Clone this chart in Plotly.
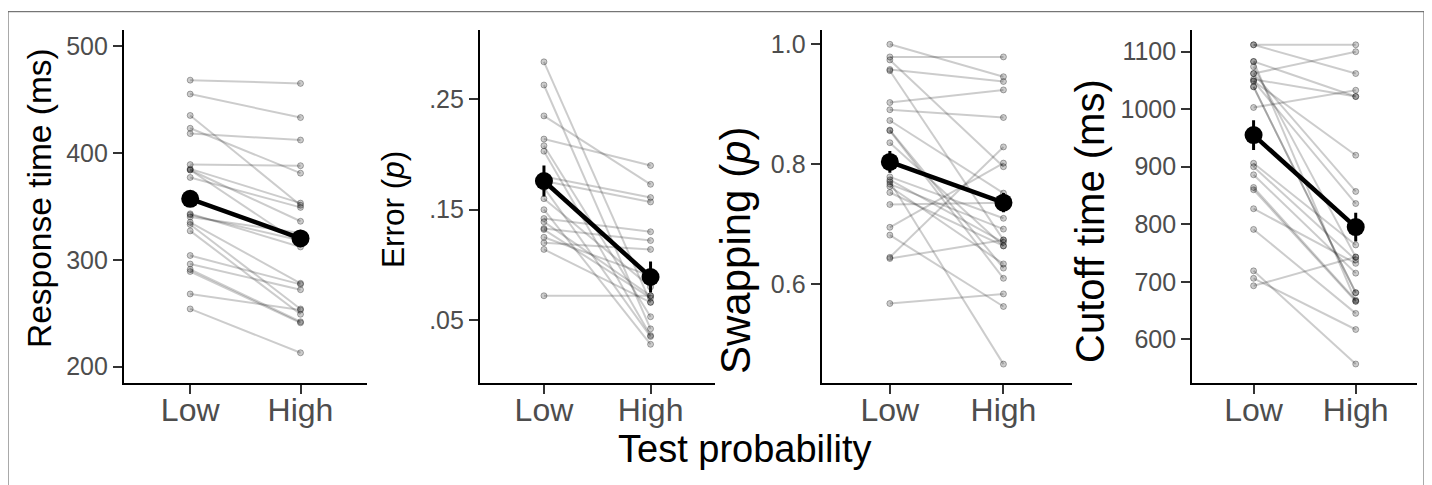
import plotly.graph_objects as go

W, H = 1432, 485
OFF = 8  # page body margin offset

conditions = ["Low", "High"]

# Panel 1: Response time (ms)
rt_low = [468, 455, 435, 423, 418, 389, 385, 384, 377, 343, 342, 335, 333, 327, 304, 296, 291, 289, 268, 254, 384, 340]
rt_high = [465, 433, 351, 381, 412, 388, 353, 336, 349, 312, 318, 278, 254, 249, 277, 272, 242, 241, 253, 213, 315, 325]
rt_mean = [357, 320]
rt_se = [7, 7]

# Panel 2: Error (p)
err_low = [.284, .263, .235, .214, .208, .203, .180, .176, .142, .139, .133, .132, .120, .114, .072, .170, .150, .125, .160]
err_high = [.066, .042, .173, .190, .053, .036, .161, .157, .130, .072, .122, .070, .114, .066, .072, .035, .028, .090, .080]
err_mean = [.176, .089]
err_se = [.014, .014]

# Panel 3: Swapping (p)
swap_low = [1.0, .979, .974, .958, .956, .903, .891, .873, .857, .856, .836, .779, .774, .771, .767, .763, .753, .733, .695, .682, .645, .643, .568]
swap_high = [.946, .979, .796, .938, .674, .924, .878, .752, .627, .610, .664, .710, .670, .467, .692, .634, .664, .736, .802, .563, .829, .674, .584]
swap_mean = [.804, .736]
swap_se = [.018, .016]

# Panel 4: Cutoff time (ms)
cut_low = [1112, 1112, 1083, 1074, 1062, 1052, 1049, 1039, 1003, 1062, 1049, 906, 900, 886, 864, 860, 827, 791, 719, 706, 693, 1039, 1083]
cut_high = [1112, 1062, 1022, 743, 1100, 1022, 920, 681, 1033, 857, 836, 764, 738, 715, 668, 666, 732, 645, 557, 617, 743, 681, 666]
cut_mean = [955, 795]
cut_se = [26, 25]

# tick settings
rt_ticks = [200, 300, 400, 500]
err_ticks = [.05, .15, .25]
err_ticktext = [".05", ".15", ".25"]
swap_ticks = [0.6, 0.8, 1.0]
swap_ticktext = ["0.6", "0.8", "1.0"]
cut_ticks = [600, 700, 800, 900, 1000, 1100]

titles = ["Response time (ms)", "Error (<i>p</i>)", "Swapping (<i>p</i>)", "Cutoff time (ms)"]
xlabel = "Test probability"


def xp(px):
    return (px - OFF) / W


def yp(py):
    return 1 - (py - OFF) / H


panels = [
    dict(low=rt_low, high=rt_high, mean=rt_mean, se=rt_se, ticks=rt_ticks,
         ticktext=[str(t) for t in rt_ticks], yr=[185, 515.4], xd=[124, 366.7],
         title_xy=(40, 198), title_size=33.5),
    dict(low=err_low, high=err_high, mean=err_mean, se=err_se, ticks=err_ticks,
         ticktext=err_ticktext, yr=[-0.0068, 0.3133], xd=[480, 714.5],
         title_xy=(393, 210), title_size=31.5),
    dict(low=swap_low, high=swap_high, mean=swap_mean, se=swap_se, ticks=swap_ticks,
         ticktext=swap_ticktext, yr=[0.436, 1.0247], xd=[821.7, 1071.6],
         title_xy=(735, 250), title_size=42),
    dict(low=cut_low, high=cut_high, mean=cut_mean, se=cut_se, ticks=cut_ticks,
         ticktext=[str(t) for t in cut_ticks], yr=[524.5, 1138.6], xd=[1192.3, 1417],
         title_xy=(1090, 221), title_size=40),
]

FONT = "Liberation Sans, Arial, Helvetica, sans-serif"
fig = go.Figure()
ydom = [yp(382.7), yp(29.5)]
annotations = []
for i, p in enumerate(panels):
    n = "" if i == 0 else str(i + 1)
    xa, ya = "x" + n, "y" + n
    for lo, hi in zip(p["low"], p["high"]):
        fig.add_trace(go.Scatter(
            x=conditions, y=[lo, hi], xaxis=xa, yaxis=ya, mode="lines+markers",
            line=dict(color="rgba(0,0,0,0.2)", width=2),
            marker=dict(size=6, color="rgba(0,0,0,0.2)",
                        line=dict(color="rgba(0,0,0,0.3)", width=1)),
            showlegend=False, hoverinfo="skip"))
    fig.add_trace(go.Scatter(
        x=conditions, y=p["mean"], xaxis=xa, yaxis=ya, mode="lines+markers",
        line=dict(color="black", width=4.5),
        marker=dict(size=18, color="black"),
        error_y=dict(type="data", array=p["se"], color="black", thickness=3, width=0),
        showlegend=False))
    fig.layout["xaxis" + n] = dict(
        domain=[xp(p["xd"][0]), xp(p["xd"][1])], anchor=ya,
        type="category", categoryorder="array", categoryarray=conditions,
        range=[-0.6, 1.6], showgrid=False, zeroline=False,
        showline=True, linecolor="black", linewidth=2.2,
        ticks="outside", ticklen=9, tickwidth=1.8, tickcolor="#333333",
        ticklabelstandoff=-11,
        tickfont=dict(family=FONT, size=32, color="#4d4d4d"))
    fig.layout["yaxis" + n] = dict(
        domain=ydom, anchor=xa, range=p["yr"], showgrid=False, zeroline=False,
        showline=True, linecolor="black", linewidth=2.2,
        tickmode="array", tickvals=p["ticks"], ticktext=p["ticktext"],
        ticks="outside", ticklen=9, tickwidth=1.8, tickcolor="#333333",
        tickfont=dict(family=FONT, size=25, color="#4d4d4d"))
    tx, ty = p["title_xy"]
    annotations.append(dict(
        text=titles[i], x=xp(tx), y=yp(ty), xref="paper", yref="paper",
        xanchor="center", yanchor="middle", textangle=-90, showarrow=False,
        font=dict(family=FONT, size=p["title_size"], color="black")))

annotations.append(dict(
    text=xlabel, x=xp(744), y=yp(463), xref="paper", yref="paper",
    xanchor="center", yanchor="bottom", yshift=-9, showarrow=False,
    font=dict(family=FONT, size=38, color="black")))

bx0, bx1, by0 = xp(8), xp(1424), yp(11.7)
shapes = [
    dict(type="line", xref="paper", yref="paper", x0=bx0, x1=bx1, y0=by0, y1=by0,
         line=dict(color="#555555", width=1)),
    dict(type="line", xref="paper", yref="paper", x0=bx0, x1=bx0, y0=-0.05, y1=by0,
         line=dict(color="#555555", width=1)),
    dict(type="line", xref="paper", yref="paper", x0=bx1, x1=bx1, y0=-0.05, y1=by0,
         line=dict(color="#555555", width=1)),
]

fig.update_layout(
    width=W, height=H, margin=dict(l=0, r=0, t=0, b=0),
    paper_bgcolor="white", plot_bgcolor="white",
    annotations=annotations, shapes=shapes, showlegend=False,
    font=dict(family=FONT))

fig.write_html("out.html")
